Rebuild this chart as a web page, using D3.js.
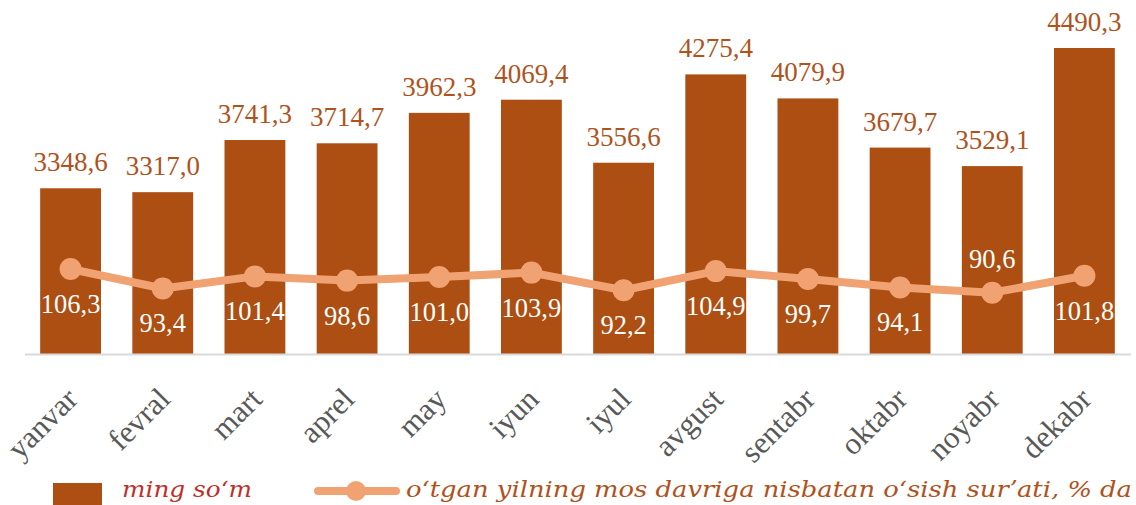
<!DOCTYPE html>
<html>
<head>
<meta charset="utf-8">
<script src="https://cdn.jsdelivr.net/npm/d3@7"></script>
<style>
  html, body { margin: 0; padding: 0; background: #fff; }
  svg { display: block; }
</style>
</head>
<body>
<svg id="chart" width="1136" height="505"></svg>
<script>
const categories = ["yanvar","fevral","mart","aprel","may","iyun","iyul","avgust","sentabr","oktabr","noyabr","dekabr"];
const barValues = [3348.6,3317.0,3741.3,3714.7,3962.3,4069.4,3556.6,4275.4,4079.9,3679.7,3529.1,4490.3];
const growthValues = [106.3,93.4,101.4,98.6,101.0,103.9,92.2,104.9,99.7,94.1,90.6,101.8];
const barSeriesName = "ming soʻm";
const lineSeriesName = "oʻtgan yilning mos davriga nisbatan oʻsish surʼati, % da";

const svg = d3.select("#chart");
const barColor = "#AD4E12";
const lineColor = "#F0A273";
const labelColor = "#AE531E";
const serif = "'Liberation Serif', 'Times New Roman', serif";
const legendFont = "'DejaVu Serif', serif";

const x = d3.scaleBand().domain(categories).range([24.5, 1130.5]).paddingInner(0.34).paddingOuter(0.17);
const y = d3.scaleLinear().domain([2000, 4500]).range([354, 46.8]);
const y2 = d3.scaleLinear().domain([90, 110]).range([293.6, 263.4]);

// bars
svg.append("g").selectAll("rect").data(barValues).join("rect")
  .attr("x", (d,i) => x(categories[i]))
  .attr("y", d => y(d))
  .attr("width", x.bandwidth())
  .attr("height", d => y(2000) - y(d))
  .attr("fill", barColor);

// axis line
const xAxis = d3.axisBottom(x).tickSize(0).tickFormat("");
const ax = svg.append("g").attr("transform", "translate(0,354)").call(xAxis);
ax.select(".domain").attr("stroke", "#D9D9D9").attr("stroke-width", 2);

// x labels
svg.append("g").selectAll("text").data(categories).join("text")
  .attr("transform", d => `translate(${x(d) + x.bandwidth()/2 + 9},${401}) rotate(-45)`)
  .attr("text-anchor", "end")
  .attr("font-family", serif)
  .attr("font-size", 31)
  .attr("fill", "#595959")
  .text(d => d);

// bar labels
const fmt = v => v.toFixed(1).replace(".", ",");
svg.append("g").selectAll("text").data(barValues).join("text")
  .attr("x", (d,i) => x(categories[i]) + x.bandwidth()/2)
  .attr("y", d => y(d) - 17)
  .attr("text-anchor", "middle")
  .attr("font-family", serif)
  .attr("font-size", 27)
  .attr("fill", labelColor)
  .text(d => fmt(d));

// line
const line = d3.line()
  .x((d,i) => x(categories[i]) + x.bandwidth()/2)
  .y(d => y2(d));
svg.append("path").datum(growthValues)
  .attr("d", line)
  .attr("fill", "none")
  .attr("stroke", lineColor)
  .attr("stroke-width", 8)
  .attr("stroke-linejoin", "round");
svg.append("g").selectAll("circle").data(growthValues).join("circle")
  .attr("cx", (d,i) => x(categories[i]) + x.bandwidth()/2)
  .attr("cy", d => y2(d))
  .attr("r", 11)
  .attr("fill", lineColor);

// line labels
const minIdx = growthValues.indexOf(d3.min(growthValues));
svg.append("g").selectAll("text").data(growthValues).join("text")
  .attr("x", (d,i) => x(categories[i]) + x.bandwidth()/2)
  .attr("y", (d,i) => i === minIdx ? y2(d) - 25 : y2(d) + 44)
  .attr("text-anchor", "middle")
  .attr("font-family", serif)
  .attr("font-size", 26.5)
  .attr("fill", "#FFFFFF")
  .text(d => fmt(d));

// legend
const lg = svg.append("g");
lg.append("rect").attr("x", 53).attr("y", 483).attr("width", 49).attr("height", 30).attr("fill", barColor);
lg.append("text").attr("x", 122).attr("y", 497)
  .attr("font-family", legendFont).attr("font-style", "italic").attr("font-size", 23)
  .attr("textLength", 130).attr("lengthAdjust", "spacingAndGlyphs")
  .attr("fill", "#C0302A").text(barSeriesName);
lg.append("line").attr("x1", 318).attr("x2", 396).attr("y1", 491).attr("y2", 491)
  .attr("stroke", lineColor).attr("stroke-width", 8).attr("stroke-linecap", "round");
lg.append("circle").attr("cx", 356).attr("cy", 491).attr("r", 10).attr("fill", lineColor);
lg.append("text").attr("x", 406).attr("y", 497)
  .attr("font-family", legendFont).attr("font-style", "italic").attr("font-size", 23)
  .attr("textLength", 726).attr("lengthAdjust", "spacingAndGlyphs")
  .attr("fill", "#B0521C").text(lineSeriesName);
</script>
</body>
</html>
